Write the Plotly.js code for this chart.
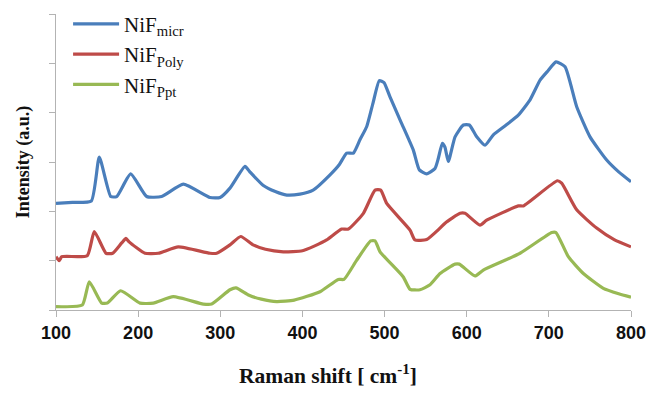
<!DOCTYPE html>
<html>
<head>
<meta charset="utf-8">
<script src="https://cdn.plot.ly/plotly-3.0.1.min.js"></script>
<style>html,body{margin:0;padding:0;background:#fff;}#chart{width:664px;height:394px;}</style>
</head>
<body>
<div id="chart"></div>
<script>
// Raman shift (cm^-1) and intensity (a.u., offset) for each sample
const micrX = [100, 120, 143, 152.7, 166.6, 173.9, 190.9, 210.4, 228.6, 255, 287.5, 299.7, 311.8, 330.1, 336, 352, 367, 381, 397, 413, 433.6, 445, 453.9, 462, 470, 478.3, 486, 493.6, 499.3, 506.6, 520, 535, 542.3, 551.3, 561.4, 565.4, 570.3, 573.5, 577.6, 585.8, 595.9, 603.2, 612.2, 622.3, 632.4, 648, 662.8, 677.1, 689.3, 699, 708.7, 719.7, 733.9, 750.1, 770.4, 785, 800];
const micrY = [2.16, 2.18, 2.21, 3.10, 2.30, 2.30, 2.76, 2.30, 2.30, 2.55, 2.28, 2.28, 2.47, 2.91, 2.80, 2.53, 2.40, 2.33, 2.35, 2.43, 2.74, 2.95, 3.18, 3.18, 3.45, 3.72, 4.20, 4.65, 4.61, 4.32, 3.81, 3.24, 2.84, 2.76, 2.87, 3.07, 3.38, 3.30, 3.01, 3.51, 3.75, 3.75, 3.51, 3.34, 3.55, 3.75, 3.95, 4.26, 4.66, 4.85, 5.03, 4.93, 4.12, 3.51, 3.04, 2.80, 2.60];

const polyX = [100, 104, 107, 138, 146.6, 160.9, 169, 180, 185.2, 189, 208.3, 224.5, 248.9, 287.5, 295.6, 311.8, 324.9, 340, 355, 376.7, 400, 415, 429.5, 447.8, 455.9, 474.2, 488.4, 495.3, 502.6, 531, 537, 551.3, 567.5, 573.6, 591.9, 597.9, 616.2, 624.3, 662.8, 668.9, 710.3, 715.6, 733.9, 758.2, 780, 800];
const polyY = [1.08, 1.00, 1.08, 1.10, 1.59, 1.15, 1.15, 1.36, 1.45, 1.38, 1.15, 1.15, 1.28, 1.15, 1.15, 1.32, 1.49, 1.32, 1.23, 1.18, 1.20, 1.30, 1.42, 1.64, 1.64, 1.96, 2.43, 2.43, 2.16, 1.62, 1.42, 1.43, 1.66, 1.76, 1.96, 1.96, 1.72, 1.82, 2.11, 2.11, 2.62, 2.57, 2.03, 1.66, 1.42, 1.28];

const pptX = [100, 132, 140.5, 155.6, 162.5, 178.7, 202.3, 218.5, 242.8, 279.3, 289.5, 311.8, 319.1, 335, 350, 368.7, 390, 421.4, 443.7, 450.6, 466.1, 483.1, 488.4, 494.5, 522.8, 531, 543.1, 555.3, 567.5, 585.8, 591, 610.1, 620.2, 664.9, 703.5, 708.7, 723.7, 742, 766.3, 785, 800];
const pptY = [0.07, 0.10, 0.57, 0.14, 0.14, 0.39, 0.14, 0.14, 0.27, 0.12, 0.12, 0.41, 0.45, 0.30, 0.22, 0.17, 0.20, 0.37, 0.62, 0.62, 1.01, 1.40, 1.40, 1.18, 0.67, 0.42, 0.41, 0.51, 0.74, 0.93, 0.93, 0.69, 0.81, 1.15, 1.57, 1.57, 1.08, 0.74, 0.44, 0.33, 0.26];

const seriesNames = ['NiF<sub>micr</sub>', 'NiF<sub>Poly</sub>', 'NiF<sub>Ppt</sub>'];
const xTickVals = [100, 200, 300, 400, 500, 600, 700, 800];
const xTitle = 'Raman shift [ cm<sup>-1</sup>]';
const yTitle = 'Intensity (a.u.)';

const colors = ['#4A7EBB', '#BE4B48', '#98B954'];
const xs = [micrX, polyX, pptX];
const ys = [micrY, polyY, pptY];

const data = xs.map((x, i) => ({
  x: x, y: ys[i], type: 'scatter', mode: 'lines', name: seriesNames[i],
  line: {color: colors[i], width: 3.2, shape: 'spline', smoothing: 0.5}
}));

const axisColor = '#b3b3b3';
const layout = {
  width: 664, height: 394,
  margin: {l: 56, r: 33, t: 14, b: 84, autoexpand: false},
  paper_bgcolor: '#fff', plot_bgcolor: '#fff',
  showlegend: true,
  legend: {
    x: 0.021, y: 1.035, xanchor: 'left', yanchor: 'top',
    font: {family: 'Liberation Serif, serif', size: 21, color: '#111'},
    bgcolor: 'rgba(0,0,0,0)', itemwidth: 46, tracegroupgap: 0
  },
  xaxis: {
    range: [100, 800], tickvals: xTickVals, ticktext: xTickVals.map(String),
    showgrid: false, zeroline: false, showline: true, linecolor: axisColor, linewidth: 1,
    ticks: 'outside', ticklen: 6, tickcolor: axisColor, tickwidth: 1,
    tickfont: {family: 'Liberation Sans, Arial, sans-serif', size: 18, color: '#111', weight: 'bold'},
    fixedrange: true
  },
  yaxis: {
    range: [0, 6], dtick: 1, tick0: 0, showticklabels: false,
    showgrid: false, zeroline: false, showline: true, linecolor: axisColor, linewidth: 1,
    ticks: 'outside', ticklen: 6, tickcolor: axisColor, tickwidth: 1,
    title: {text: '<b>' + yTitle + '</b>', font: {family: 'Liberation Serif, serif', size: 18, color: '#111'}, standoff: 14},
    fixedrange: true
  },
  annotations: [{
    xref: 'paper', yref: 'paper', x: (328 - 56) / 575, y: 0, yshift: -64,
    xanchor: 'center', yanchor: 'middle', showarrow: false,
    text: '<b>' + xTitle + '</b>',
    font: {family: 'Liberation Serif, serif', size: 21.5, color: '#111'}
  }]
};

Plotly.newPlot('chart', data, layout, {displayModeBar: false, staticPlot: true});
</script>
</body>
</html>
